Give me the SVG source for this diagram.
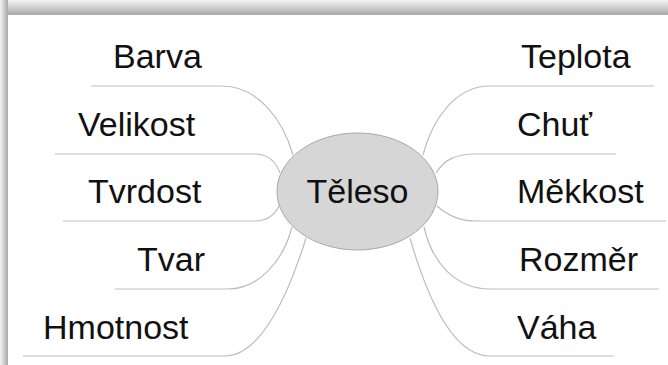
<svg xmlns="http://www.w3.org/2000/svg" width="668" height="365" viewBox="0 0 668 365">
<defs>
<linearGradient id="gTop" x1="0" y1="0" x2="0" y2="1">
<stop offset="0" stop-color="#f4f4f4"/>
<stop offset="1" stop-color="#a9a9a9"/>
</linearGradient>
<linearGradient id="gLeft" x1="0" y1="0" x2="1" y2="0">
<stop offset="0" stop-color="#f4f4f4"/>
<stop offset="1" stop-color="#a9a9a9"/>
</linearGradient>
<style>
.lbl{font-family:"Liberation Sans",Arial,sans-serif;font-size:34px;fill:#111}
.con{fill:none;stroke:#bdbdbd;stroke-width:1.2}
</style>
</defs>
<rect x="0" y="0" width="668" height="365" fill="#ffffff"/>
<rect x="0" y="0" width="668" height="15" fill="url(#gTop)"/>
<rect x="0" y="0" width="8" height="365" fill="url(#gLeft)"/>
<g id="connectors">
<path class="con" d="M91,86 H222 C258,86 283,120 293,155"/>
<path class="con" d="M55,154 H255 C268,154 276,162 280,173"/>
<path class="con" d="M63,221 H255 C268,221 275,214 279,206"/>
<path class="con" d="M115,289 H228 C258,289 283,262 292,227"/>
<path class="con" d="M23,356 H225 C262,356 290,290 306,238"/>
<path class="con" d="M654,86 H490 C455,86 432,120 423,155"/>
<path class="con" d="M616,154 H475 C455,154 444,160 436,173"/>
<path class="con" d="M666,221 H475 C458,221 446,214 437,206"/>
<path class="con" d="M659,289 H490 C455,289 432,262 424,227"/>
<path class="con" d="M614,356 H490 C450,356 425,290 410,238"/>
</g>
<g id="center">
<ellipse cx="357.5" cy="191.5" rx="80.5" ry="58.5" fill="#d6d6d6" stroke="#a8a8a8" stroke-width="1"/>
<text class="lbl" x="357.5" y="203" text-anchor="middle">Těleso</text>
</g>
<g id="barva"><text class="lbl" x="113" y="68">Barva</text></g>
<g id="velikost"><text class="lbl" x="78" y="136">Velikost</text></g>
<g id="tvrdost"><text class="lbl" x="88" y="203">Tvrdost</text></g>
<g id="tvar"><text class="lbl" x="137" y="271">Tvar</text></g>
<g id="hmotnost"><text class="lbl" x="43" y="339">Hmotnost</text></g>
<g id="teplota"><text class="lbl" x="521" y="68">Teplota</text></g>
<g id="chut"><text class="lbl" x="517" y="136">Chuť</text></g>
<g id="mekkost"><text class="lbl" x="517" y="203">Měkkost</text></g>
<g id="rozmer"><text class="lbl" x="519" y="271">Rozměr</text></g>
<g id="vaha"><text class="lbl" x="517" y="339">Váha</text></g>
</svg>
